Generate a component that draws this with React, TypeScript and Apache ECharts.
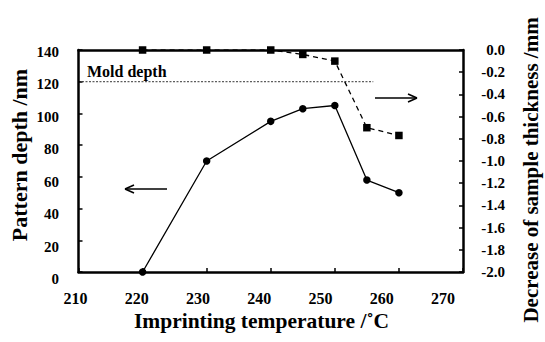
import React, { useEffect, useRef } from "react";
import * as echarts from "echarts";

const temps = [220, 230, 240, 245, 250, 255, 260];
const patternDepth = [0, 70, 95, 103, 105, 58, 50];
const thicknessDecrease = [0, 0, 0, -0.04, -0.1, -0.7, -0.77];
const moldDepth = 120;
const moldDepthRange = [210, 256];
const xTitle = "Imprinting temperature /˚C";
const yLeftTitle = "Pattern depth /nm";
const yRightTitle = "Decrease of sample thickness /mm";
const moldLabel = "Mold depth";

const FONT = "Liberation Serif";

export default function App() {
  const ref = useRef<HTMLDivElement>(null);
  useEffect(() => {
    if (!ref.current) return;
    const chart = echarts.init(ref.current, null, { renderer: "svg" });
    const axisLineStyle = { color: "#000", width: 2.5 };
    const tickStyle = { color: "#000", width: 1.5 };
    const labelStyle = { color: "#000", fontFamily: FONT, fontWeight: "bold" as const, fontSize: 15 };
    const titleStyle = (size: number) => ({
      fill: "#000",
      fontFamily: FONT,
      fontWeight: "bold" as const,
      fontSize: size,
      align: "center" as const,
      verticalAlign: "middle" as const,
    });
    const arrowStyle = { stroke: "#000", lineWidth: 1.5 };
    chart.setOption({
      animation: false,
      backgroundColor: "#fff",
      textStyle: { fontFamily: FONT },
      grid: [
        { left: 78.5, right: 82, top: 50, bottom: 70 },
        { left: 75.5, right: 102, top: 51.8, bottom: 63 },
      ],
      xAxis: [
        {
          type: "value",
          gridIndex: 0,
          min: 210,
          max: 270,
          interval: 10,
          axisLine: { lineStyle: axisLineStyle },
          axisTick: { inside: true, length: 4, lineStyle: tickStyle },
          axisLabel: { show: false },
          splitLine: { show: false },
        },
        {
          type: "value",
          gridIndex: 0,
          position: "top",
          min: 210,
          max: 270,
          axisLine: { show: true, lineStyle: axisLineStyle },
          axisTick: { show: false },
          axisLabel: { show: false },
          splitLine: { show: false },
        },
        {
          type: "value",
          gridIndex: 1,
          min: 210,
          max: 270,
          interval: 10,
          axisLine: { show: false },
          axisTick: { show: false },
          axisLabel: { ...labelStyle, fontSize: 16, margin: 11 },
          splitLine: { show: false },
        },
      ],
      yAxis: [
        {
          type: "value",
          gridIndex: 0,
          min: 0,
          max: 140,
          interval: 20,
          axisLine: { show: true, lineStyle: axisLineStyle },
          axisTick: { show: true, inside: true, length: 4, lineStyle: tickStyle },
          axisLabel: { show: false },
          splitLine: { show: false },
        },
        {
          type: "value",
          gridIndex: 0,
          position: "right",
          min: -2,
          max: 0,
          interval: 0.2,
          axisLine: { show: true, lineStyle: axisLineStyle },
          axisTick: { show: true, inside: true, length: 4, lineStyle: tickStyle },
          axisLabel: { ...labelStyle, margin: 42, align: "right", formatter: (v: number) => v.toFixed(1) },
          splitLine: { show: false },
        },
        {
          type: "value",
          gridIndex: 1,
          min: 0,
          max: 140,
          interval: 20,
          axisLine: { show: false },
          axisTick: { show: false },
          axisLabel: { ...labelStyle, margin: 16.5 },
          splitLine: { show: false },
        },
      ],
      series: [
        {
          type: "line",
          xAxisIndex: 0,
          yAxisIndex: 0,
          data: moldDepthRange.map((x) => [x, moldDepth]),
          symbol: "none",
          lineStyle: { color: "#000", width: 0.8, type: [2, 1.5] },
          z: 1,
        },
        {
          type: "line",
          xAxisIndex: 0,
          yAxisIndex: 0,
          data: temps.map((t, i) => [t, patternDepth[i]]),
          symbol: "circle",
          symbolSize: 7.5,
          itemStyle: { color: "#000" },
          lineStyle: { color: "#000", width: 1.3 },
          z: 3,
        },
        {
          type: "line",
          xAxisIndex: 0,
          yAxisIndex: 1,
          data: temps.map((t, i) => [t, thicknessDecrease[i]]),
          symbol: "rect",
          symbolSize: 7.5,
          itemStyle: { color: "#000" },
          lineStyle: { color: "#000", width: 1.3, type: [5, 4] },
          z: 4,
        },
      ],
      graphic: [
        {
          type: "text",
          x: 261.5,
          y: 321,
          style: { text: xTitle, ...titleStyle(21.5) },
        },
        {
          type: "text",
          x: 19,
          y: 155,
          rotation: Math.PI / 2,
          style: { text: yLeftTitle, ...titleStyle(22) },
        },
        {
          type: "text",
          x: 531,
          y: 170,
          rotation: Math.PI / 2,
          style: { text: yRightTitle, ...titleStyle(21) },
        },
        {
          type: "text",
          x: 87,
          y: 71.5,
          style: {
            text: moldLabel,
            fill: "#000",
            fontFamily: FONT,
            fontWeight: "bold",
            fontSize: 16,
            align: "left",
            verticalAlign: "middle",
          },
        },
        { type: "line", shape: { x1: 125, y1: 189, x2: 167, y2: 189 }, style: arrowStyle },
        { type: "line", shape: { x1: 125, y1: 189, x2: 134, y2: 185 }, style: arrowStyle },
        { type: "line", shape: { x1: 125, y1: 189, x2: 134, y2: 193 }, style: arrowStyle },
        { type: "line", shape: { x1: 375, y1: 98, x2: 417, y2: 98 }, style: arrowStyle },
        { type: "line", shape: { x1: 417, y1: 98, x2: 408, y2: 94 }, style: arrowStyle },
        { type: "line", shape: { x1: 417, y1: 98, x2: 408, y2: 102 }, style: arrowStyle },
      ],
    });
    return () => chart.dispose();
  }, []);
  return <div ref={ref} style={{ width: 545, height: 342, position: "absolute", left: 0, top: 0 }} />;
}
